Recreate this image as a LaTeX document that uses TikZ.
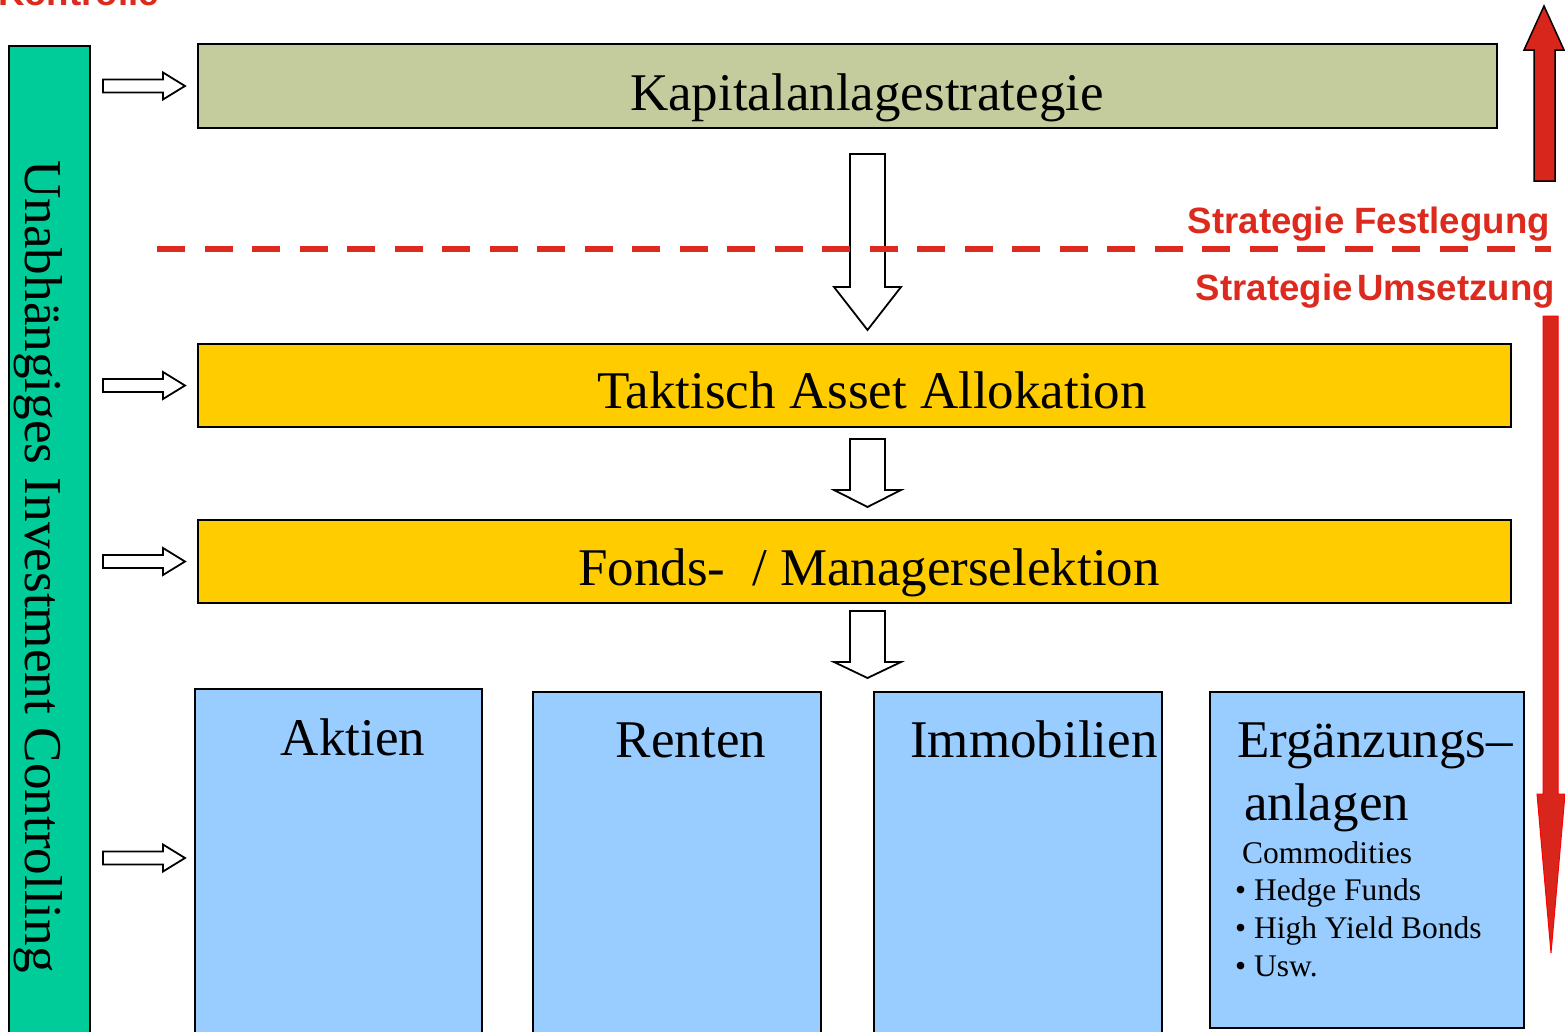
\documentclass[tikz,border=0pt]{standalone}
\usepackage{fontspec}
\setmainfont{Liberation Serif}
\newfontfamily\redsans{Liberation Sans}
\usetikzlibrary{calc}
\definecolor{ctrlgreen}{HTML}{00CC99}
\definecolor{olivebox}{HTML}{C4CC9E}
\definecolor{goldbox}{HTML}{FFCC00}
\definecolor{bluebox}{HTML}{99CCFF}
\definecolor{myred}{HTML}{DC2A1E}
\definecolor{arrowred}{HTML}{D9261C}
\tikzset{
  box/.style={draw=black, line width=1.5pt, inner sep=0pt, outer sep=0pt},
  bigtxt/.style={font=\fontsize{53}{60}\selectfont, anchor=base, inner sep=0pt},
  smalltxt/.style={font=\fontsize{31.5}{36}\selectfont, anchor=base west, inner sep=0pt},
  redtxt/.style={font=\redsans\bfseries\fontsize{36.6}{40}\selectfont, text=myred, inner sep=0pt},
  hollow/.style={draw=black, line width=1.8pt, fill=white, line join=miter},
  rarr/.pic={\draw[hollow] (-41,-6.5) -- (19,-6.5) -- (19,-13.5) -- (41,0) -- (19,13.5) -- (19,6.5) -- (-41,6.5) -- cycle;}
}
\begin{document}
\begin{tikzpicture}[x=1pt,y=-1pt]
\useasboundingbox (0,0) rectangle (1565,1031);
\clip (0,0) rectangle (1565,1031);
\fill[white] (0,0) rectangle (1565,1031);

% top cut-off label
\node[redtxt, anchor=base west] (kontrolle) at (-2,5) {Kontrolle};

% controlling bar
\node[box, fill=ctrlgreen, minimum width=81pt, minimum height=999pt] (ctrl) at (49.5,545.5) {};
\node[font=\fontsize{53.2}{60}\selectfont, rotate=-90, anchor=base west, inner sep=0pt] (ctrlt) at (25,160) {Unabhängiges Investment Controlling};

% main boxes
\node[box, fill=olivebox, minimum width=1299pt, minimum height=84pt] (kap) at (847.5,86) {};
\node[bigtxt] (kapt) at (867,110) {Kapitalanlagestrategie};

\node[box, fill=goldbox, minimum width=1313pt, minimum height=83pt] (tak) at (854.5,385.5) {};
\node[bigtxt] (takt) at (872,408) {Taktisch Asset Allokation};

\node[box, fill=goldbox, minimum width=1313pt, minimum height=83pt] (fon) at (854.5,561.5) {};
\node[bigtxt] (font) at (869,585) {Fonds-\ \ / Managerselektion};

% asset class boxes
\node[box, fill=bluebox, minimum width=287pt, minimum height=356pt] (akt) at (338.5,867) {};
\node[bigtxt] (aktt) at (353,755) {Aktien};
\node[box, fill=bluebox, minimum width=288pt, minimum height=353pt] (ren) at (677,868.5) {};
\node[bigtxt] (rent) at (691,757) {Renten};
\node[box, fill=bluebox, minimum width=288pt, minimum height=353pt] (imm) at (1018,868.5) {};
\node[bigtxt, anchor=base west] (immt) at (910,757) {Immobilien};
\node[box, fill=bluebox, minimum width=314pt, minimum height=336pt] (erg) at (1367,860) {};
\node[bigtxt, anchor=base west] (erg1) at (1237,757) {Ergänzungs–};
\node[bigtxt, anchor=base west] (erg2) at (1244,820) {anlagen};
\node[smalltxt] (erg3) at (1242,863) {Commodities};
\node[smalltxt] (erg4) at (1235,900) {• Hedge Funds};
\node[smalltxt] (erg5) at (1235,938) {• High Yield Bonds};
\node[smalltxt] (erg6) at (1235,976) {• Usw.};

% hollow right arrows from controlling bar
\pic at ([xshift=54pt]ctrl.east |- kap.west) {rarr};
\pic at ([xshift=54pt]ctrl.east |- tak.west) {rarr};
\pic at ([xshift=54pt]ctrl.east |- fon.west) {rarr};
\pic at ([xshift=54pt,yshift=-169pt]ctrl.east |- akt.north) {rarr};

% hollow down arrows
\draw[hollow] (850,154) -- (885,154) -- (885,287) -- (901,287) -- (867.5,330) -- (834,287) -- (850,287) -- cycle;
\draw[hollow] (850,439) -- (885,439) -- (885,490) -- (901,490) -- (867.5,507) -- (834,490) -- (850,490) -- cycle;
\draw[hollow] (850,611) -- (885,611) -- (885,662) -- (901,662) -- (867.5,678) -- (834,662) -- (850,662) -- cycle;

% dashed separator
\draw[myred, line width=6pt, dash pattern=on 28pt off 19.5pt] (157,249) -- (1551,249);
\node[redtxt, anchor=base east] (fest) at (1550,233) {Strategie Festlegung};
\node[redtxt, anchor=base east] (umse) at (1555,300) {Strategie\hspace{5pt}Umsetzung};

% red up arrow
\draw[fill=arrowred, draw=black, line width=1.5pt, line join=miter] (1534,181) -- (1534,50) -- (1524,50) -- (1544,6) -- (1564,50) -- (1555,50) -- (1555,181) -- cycle;
% red down arrow
\draw[fill=arrowred, draw=red, line width=1pt, line join=miter] (1543,316) -- (1558,316) -- (1558,794) -- (1565,794) -- (1551,953) -- (1537,794) -- (1543,794) -- cycle;
\end{tikzpicture}
\end{document}
